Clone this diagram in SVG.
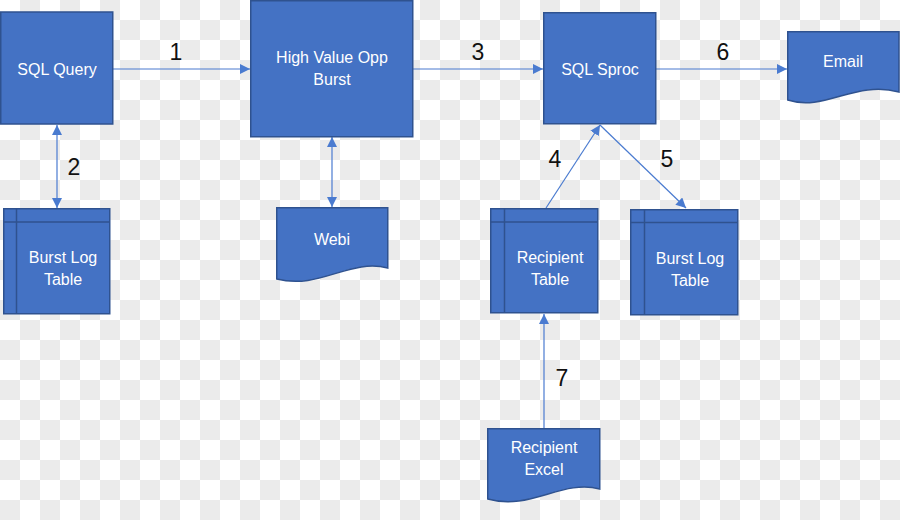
<svg xmlns="http://www.w3.org/2000/svg" width="900" height="520" viewBox="0 0 900 520">
<defs>
<pattern id="chk" width="40" height="40" patternUnits="userSpaceOnUse">
<rect width="40" height="40" fill="#ffffff"/>
<rect x="20" y="0" width="20" height="20" fill="#ebebeb"/>
<rect x="0" y="20" width="20" height="20" fill="#ebebeb"/>
</pattern>
<marker id="ah" viewBox="0 0 10 10" refX="10" refY="5" markerWidth="10" markerHeight="10" markerUnits="userSpaceOnUse" orient="auto-start-reverse">
<path d="M0,0 L10,5 L0,10 Z" fill="#4a7bd0"/>
</marker>
<style>
.box{fill:#4472c4;stroke:#2f528f;stroke-width:1.5}
.inner{fill:none;stroke:#2f528f;stroke-width:1.5}
.lbl{font-family:"Liberation Sans",Arial,sans-serif;font-size:16px;fill:#ffffff;text-anchor:middle}
.num{font-family:"Liberation Sans",Arial,sans-serif;font-size:23px;fill:#111111;text-anchor:middle}
.con{stroke:#4a7bd0;stroke-width:1.2;fill:none}
</style>
</defs>
<rect width="900" height="520" fill="url(#chk)"/>

<g id="connectors">
<line class="con" x1="113" y1="69" x2="250" y2="69" marker-end="url(#ah)"/>
<line class="con" x1="57" y1="125" x2="57" y2="208" marker-start="url(#ah)" marker-end="url(#ah)"/>
<line class="con" x1="413" y1="69" x2="543" y2="69" marker-end="url(#ah)"/>
<line class="con" x1="332" y1="137" x2="332" y2="207" marker-start="url(#ah)" marker-end="url(#ah)"/>
<line class="con" x1="546" y1="208" x2="600" y2="125" marker-end="url(#ah)"/>
<line class="con" x1="600" y1="125" x2="686" y2="208" marker-end="url(#ah)"/>
<line class="con" x1="656" y1="69" x2="787" y2="69" marker-end="url(#ah)"/>
<line class="con" x1="544" y1="428" x2="544" y2="314" marker-end="url(#ah)"/>
<text class="num" x="176" y="60">1</text>
<text class="num" x="74" y="175">2</text>
<text class="num" x="478" y="60">3</text>
<text class="num" x="555" y="167">4</text>
<text class="num" x="667" y="167">5</text>
<text class="num" x="723" y="60">6</text>
<text class="num" x="562" y="386">7</text>
</g>

<g id="sql-query">
<rect class="box" x="0.75" y="12" width="112" height="112"/>
<text class="lbl" x="57" y="75">SQL Query</text>
</g>

<g id="high-value-opp-burst">
<rect class="box" x="250.75" y="0.75" width="162" height="136"/>
<text class="lbl" x="332" y="63">High Value Opp</text>
<text class="lbl" x="332" y="85">Burst</text>
</g>

<g id="sql-sproc">
<rect class="box" x="543.75" y="12.75" width="112" height="111"/>
<text class="lbl" x="600" y="75">SQL Sproc</text>
</g>

<g id="email">
<path class="box" d="M787.75,31.75 H899 V92 C855,80 825,112 787.75,100 Z"/>
<text class="lbl" x="843" y="67">Email</text>
</g>

<g id="burst-log-table-left">
<rect class="box" x="3.75" y="208.75" width="106" height="105"/>
<path class="inner" d="M16.5,208.75 V313.75 M3.75,222 H109.75"/>
<text class="lbl" x="63" y="263">Burst Log</text>
<text class="lbl" x="63" y="285">Table</text>
</g>

<g id="webi">
<path class="box" d="M276.75,207.75 H387.75 V268 C350,258 320,290 276.75,279 Z"/>
<text class="lbl" x="332" y="245">Webi</text>
</g>

<g id="recipient-table">
<rect class="box" x="490.75" y="208.75" width="107" height="104"/>
<path class="inner" d="M504.5,208.75 V312.75 M490.75,222 H597.75"/>
<text class="lbl" x="550" y="263">Recipient</text>
<text class="lbl" x="550" y="285">Table</text>
</g>

<g id="burst-log-table-right">
<rect class="box" x="630.75" y="209.75" width="107" height="105"/>
<path class="inner" d="M644.5,209.75 V314.75 M630.75,222.5 H737.75"/>
<text class="lbl" x="690" y="264">Burst Log</text>
<text class="lbl" x="690" y="286">Table</text>
</g>

<g id="recipient-excel">
<path class="box" d="M487.75,428.75 H599.75 V489 C562,479 530,511 487.75,499 Z"/>
<text class="lbl" x="544" y="453">Recipient</text>
<text class="lbl" x="544" y="475">Excel</text>
</g>
</svg>
